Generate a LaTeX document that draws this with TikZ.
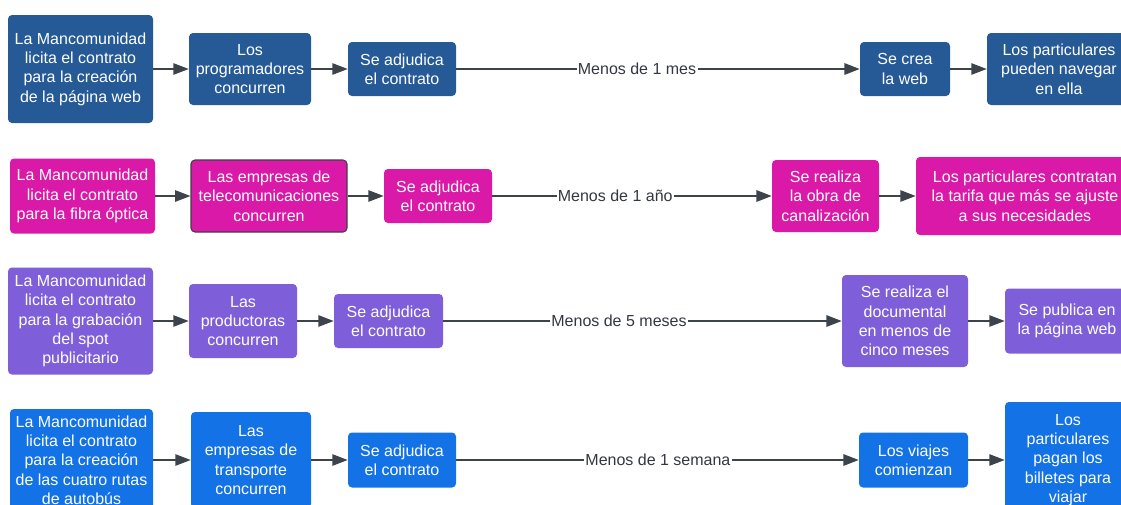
\documentclass[tikz,border=0pt]{standalone}
\usepackage{fontspec}
\setmainfont{Liberation Sans}
\usetikzlibrary{arrows.meta}
\definecolor{rowA}{RGB}{37,90,150}
\definecolor{rowB}{RGB}{218,25,168}
\definecolor{rowC}{RGB}{127,95,217}
\definecolor{rowD}{RGB}{18,114,230}
\definecolor{arr}{RGB}{61,67,75}
\definecolor{lbl}{RGB}{51,56,64}
\tikzset{
  box/.style={rounded corners=3pt, inner sep=0pt, align=center, text=white,
    font=\fontsize{12pt}{14.5pt}\selectfont},
  bA/.style={box, fill=rowA},
  bB/.style={box, fill=rowB},
  bC/.style={box, fill=rowC},
  bD/.style={box, fill=rowD},
  sz/.style 2 args={minimum width=#1*0.75pt, minimum height=#2*0.75pt},
  shortarr/.style={draw=arr, line width=1.1pt, -{Triangle[length=11.5pt,width=8.5pt]}},
  longarr/.style={draw=arr, line width=1.5pt, -{Triangle[length=11.5pt,width=8.5pt]}},
  lab/.style={fill=white, inner sep=1pt, text=lbl, font=\fontsize{12pt}{14.5pt}\selectfont},
}
\begin{document}
\begin{tikzpicture}[x=0.75pt,y=-0.75pt]
\useasboundingbox (0,0) rectangle (1121,504);
\clip (0,0) rectangle (1121,504);
\fill[white] (0,0) rectangle (1121,504);
% Row 1
\node[bA, sz={145}{108}] (a1) at (80.5,69) {La Mancomunidad\\licita el contrato\\para la creación\\de la página web};
\node[bA, sz={122}{72}] (b1) at (250,69) {Los\\programadores\\concurren};
\node[bA, sz={108}{54}] (c1) at (402,69) {Se adjudica\\el contrato};
\node[bA, sz={90}{54}] (d1) at (905,69) {Se crea\\la web};
\node[bA, sz={144}{72}] (e1) at (1059,69) {Los particulares\\pueden navegar\\en ella};
\draw[shortarr] (a1) -- (b1);
\draw[shortarr] (b1) -- (c1);
\draw[longarr] (c1) -- node[lab, pos=0.448] (l1) {Menos de 1 mes} (d1);
\draw[shortarr] (d1) -- (e1);
% Row 2
\node[bB, sz={145}{75}] (a2) at (82.5,196) {La Mancomunidad\\licita el contrato\\para la fibra óptica};
\node[bB, sz={156}{72}, draw=black!75, line width=0.8pt] (b2) at (269,196) {Las empresas de\\telecomunicaciones\\concurren};
\node[bB, sz={108}{54}] (c2) at (438,196) {Se adjudica\\el contrato};
\node[bB, sz={107}{72}] (d2) at (825.5,196) {Se realiza\\la obra de\\canalización};
\node[bB, sz={218}{78}] (e2) at (1025,196) {Los particulares contratan\\la tarifa que más se ajuste\\a sus necesidades};
\draw[shortarr] (a2) -- (b2);
\draw[shortarr] (b2) -- (c2);
\draw[longarr] (c2) -- node[lab, pos=0.44] (l2) {Menos de 1 año} (d2);
\draw[shortarr] (d2) -- (e2);
% Row 3
\node[bC, sz={145}{107}] (a3) at (80.5,321) {La Mancomunidad\\licita el contrato\\para la grabación\\del spot\\publicitario};
\node[bC, sz={108}{74}] (b3) at (243,321) {Las\\productoras\\concurren};
\node[bC, sz={109}{54}] (c3) at (388.5,321) {Se adjudica\\el contrato};
\node[bC, sz={126}{92}] (d3) at (905,321) {Se realiza el\\documental\\en menos de\\cinco meses};
\node[bC, sz={124}{65}] (e3) at (1067,321) {Se publica en\\la página web};
\draw[shortarr] (a3) -- (b3);
\draw[shortarr] (b3) -- (c3);
\draw[longarr] (c3) -- node[lab, pos=0.441] (l3) {Menos de 5 meses} (d3);
\draw[shortarr] (d3) -- (e3);
% Row 4
\node[bD, sz={143}{102}] (a4) at (81.5,460) {La Mancomunidad\\licita el contrato\\para la creación\\de las cuatro rutas\\de autobús};
\node[bD, sz={120}{96}] (b4) at (251,460) {Las\\empresas de\\transporte\\concurren};
\node[bD, sz={108}{55}] (c4) at (402,460) {Se adjudica\\el contrato};
\node[bD, sz={109}{55}] (d4) at (913.5,460) {Los viajes\\comienzan};
\node[bD, sz={126}{116}] (e4) at (1068,460) {Los\\particulares\\pagan los\\billetes para\\viajar};
\draw[shortarr] (a4) -- (b4);
\draw[shortarr] (b4) -- (c4);
\draw[longarr] (c4) -- node[lab, pos=0.501] (l4) {Menos de 1 semana} (d4);
\draw[shortarr] (d4) -- (e4);
\end{tikzpicture}
\end{document}
